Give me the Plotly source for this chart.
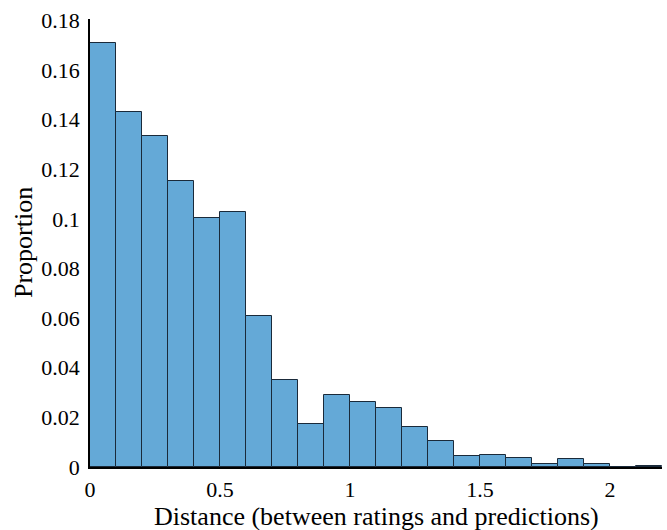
import plotly.graph_objects as go

bin_starts = [0.0, 0.1, 0.2, 0.3, 0.4, 0.5, 0.6, 0.7, 0.8, 0.9, 1.0,
              1.1, 1.2, 1.3, 1.4, 1.5, 1.6, 1.7, 1.8, 1.9, 2.0, 2.1]
proportions = [0.171, 0.143, 0.1333, 0.1152, 0.1002, 0.103, 0.061, 0.0352,
               0.0172, 0.0291, 0.0264, 0.0238, 0.016, 0.0104, 0.0043, 0.0048,
               0.0036, 0.0011, 0.0031, 0.0014, 0.0001, 0.0003]
bin_width = 0.1
x_ticks = [0, 0.5, 1, 1.5, 2]
x_tick_labels = ["0", "0.5", "1", "1.5", "2"]
y_ticks = [0, 0.02, 0.04, 0.06, 0.08, 0.1, 0.12, 0.14, 0.16, 0.18]
y_tick_labels = ["0", "0.02", "0.04", "0.06", "0.08", "0.1", "0.12", "0.14", "0.16", "0.18"]
x_title = "Distance (between ratings and predictions)"
y_title = "Proportion"

centers = [s + bin_width / 2 for s in bin_starts]

fig = go.Figure(go.Bar(
    x=centers, y=proportions, width=bin_width,
    marker=dict(color="#64A9D7", line=dict(color="#1a2a3a", width=1)),
))

font = "Liberation Serif, Times New Roman, serif"
fig.update_layout(
    width=667, height=530,
    margin=dict(l=90, r=5, t=19, b=63, autoexpand=False),
    plot_bgcolor="white", paper_bgcolor="white",
    font=dict(family=font, size=22, color="black"),
    showlegend=False, bargap=0,
)
fig.update_xaxes(
    range=[0, 2.2], tickvals=x_ticks, ticktext=x_tick_labels,
    showgrid=False, zeroline=False, showline=True, linecolor="black", linewidth=1.5,
    ticks="", automargin=False, ticklabelstandoff=2,
)
fig.update_yaxes(
    range=[0, 0.1806], tickvals=y_ticks, ticktext=y_tick_labels,
    showgrid=False, zeroline=False, showline=True, linecolor="black", linewidth=1.5,
    ticks="", automargin=False, ticklabelstandoff=4,
)
fig.add_annotation(text=x_title, xref="paper", yref="paper", x=0.5, y=-0.11,
                   xanchor="center", yanchor="middle", showarrow=False,
                   font=dict(size=26, family=font, color="black"))
fig.add_annotation(text=y_title, xref="paper", yref="paper", x=-0.117, y=0.5,
                   xanchor="center", yanchor="middle", showarrow=False, textangle=-90,
                   font=dict(size=26, family=font, color="black"))

fig.write_html("out.html", config={"displayModeBar": False},
               post_script="document.body.style.margin='0';document.body.style.overflow='hidden';")
